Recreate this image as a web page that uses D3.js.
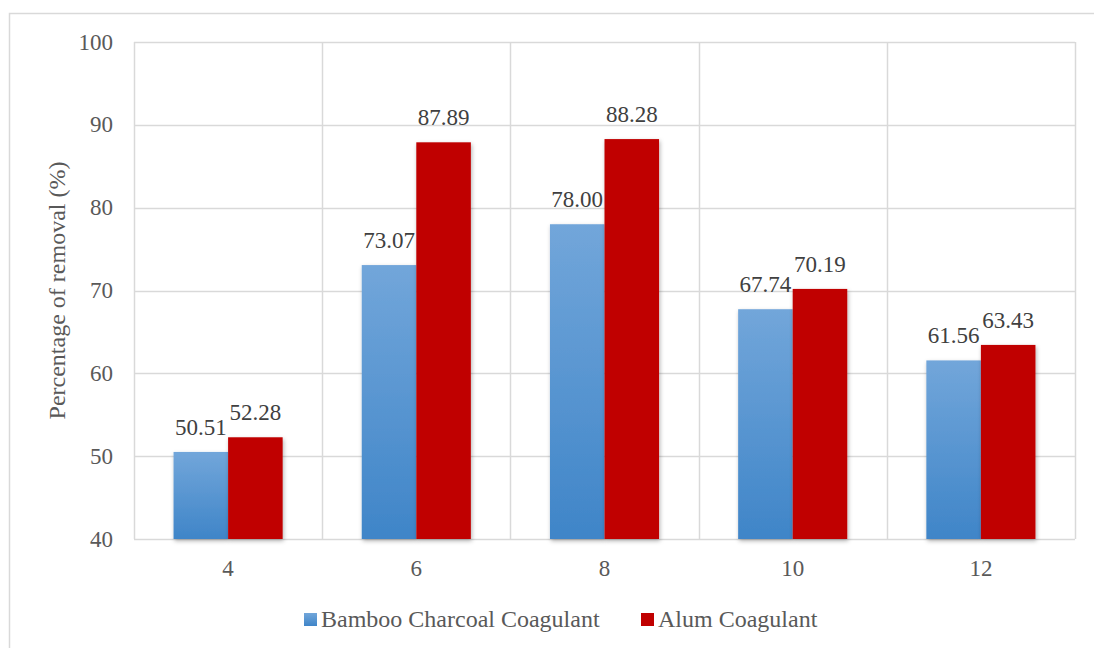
<!DOCTYPE html>
<html>
<head>
<meta charset="utf-8">
<script src="https://cdn.jsdelivr.net/npm/d3@7"></script>
<style>
  html, body { margin: 0; padding: 0; background: #fff; }
  svg text { font-family: 'Liberation Serif', Tinos, 'Times New Roman', 'DejaVu Serif', serif; }
</style>
</head>
<body>
<svg id="chart" width="1094" height="648"></svg>
<script>
// Coagulant dosage groups (x axis)
const categories = ["4", "6", "8", "10", "12"];
// Removal percentages per coagulant
const bambooValues = [50.51, 73.07, 78.00, 67.74, 61.56];
const alumValues = [52.28, 87.89, 88.28, 70.19, 63.43];
const seriesNames = ["Bamboo Charcoal Coagulant", "Alum Coagulant"];
const yTicks = [40, 50, 60, 70, 80, 90, 100];

const FONT = "'Liberation Serif', Tinos, 'Times New Roman', 'DejaVu Serif', serif";
const FS = 23;      // tick and value labels
const FS_BIG = 24;  // axis title and legend
const svg = d3.select("#chart");
const plot = { left: 134, right: 1075, top: 42, bottom: 539 };

// Outer chart frame
svg.append("path")
  .attr("d", "M9.5,660 V13.5 H1100")
  .attr("fill", "none").attr("stroke", "#d9d9d9").attr("stroke-width", 1.5);

const defs = svg.append("defs");
const grad = defs.append("linearGradient").attr("id", "blueGrad")
  .attr("x1", 0).attr("y1", 0).attr("x2", 0).attr("y2", 1);
grad.append("stop").attr("offset", "0%").attr("stop-color", "#72a6da");
grad.append("stop").attr("offset", "100%").attr("stop-color", "#3f85c8");

const shadow = defs.append("filter").attr("id", "barShadow")
  .attr("x", "-20%").attr("y", "-20%").attr("width", "140%").attr("height", "140%");
shadow.append("feDropShadow").attr("dx", 1).attr("dy", 2).attr("stdDeviation", 2)
  .attr("flood-color", "#000").attr("flood-opacity", 0.3);

const x = d3.scaleBand().domain(categories).range([plot.left, plot.right]).paddingInner(0).paddingOuter(0);
const y = d3.scaleLinear().domain([40, 100]).range([plot.bottom, plot.top]);

// Horizontal gridlines
svg.append("g").selectAll("line").data(yTicks).join("line")
  .attr("x1", plot.left).attr("x2", plot.right)
  .attr("y1", d => Math.round(y(d)) + 0.5).attr("y2", d => Math.round(y(d)) + 0.5)
  .attr("stroke", "#d9d9d9").attr("stroke-width", 1.5);

// Vertical category dividers
const dividers = categories.map(c => x(c)).concat([plot.right]);
svg.append("g").selectAll("line").data(dividers).join("line")
  .attr("x1", d => Math.round(d) + 0.5).attr("x2", d => Math.round(d) + 0.5)
  .attr("y1", plot.top).attr("y2", plot.bottom)
  .attr("stroke", "#d9d9d9").attr("stroke-width", 1.5);

// Y tick labels
svg.append("g").selectAll("text").data(yTicks).join("text")
  .attr("x", 113).attr("y", d => y(d)).attr("dy", "0.33em")
  .attr("text-anchor", "end").attr("font-size", FS).attr("font-family", FONT).attr("fill", "#595959")
  .text(d => d);

// X tick labels
svg.append("g").selectAll("text").data(categories).join("text")
  .attr("x", d => x(d) + x.bandwidth() / 2).attr("y", 576)
  .attr("text-anchor", "middle").attr("font-size", FS).attr("font-family", FONT).attr("fill", "#595959")
  .text(d => d);

// Y axis title
svg.append("text")
  .attr("transform", "translate(65," + ((plot.top + plot.bottom) / 2) + ") rotate(-90)")
  .attr("text-anchor", "middle").attr("font-size", FS_BIG).attr("font-family", FONT).attr("fill", "#595959")
  .text("Percentage of removal (%)");

// Bars within each category
const inner = d3.scaleBand().domain([0, 1]).range([0, x.bandwidth()]).paddingInner(0).paddingOuter(0.725);
const rows = categories.map((c, i) => ({ c, vals: [bambooValues[i], alumValues[i]] }));
const fills = ["url(#blueGrad)", "#c00000"];

const groups = svg.append("g").selectAll("g").data(rows).join("g")
  .attr("transform", d => "translate(" + x(d.c) + ",0)");

groups.selectAll("rect").data(d => d.vals.map((v, k) => ({ v, k }))).join("rect")
  .attr("x", d => inner(d.k)).attr("width", inner.bandwidth())
  .attr("y", d => y(d.v)).attr("height", d => y(40) - y(d.v))
  .attr("fill", d => fills[d.k]).attr("filter", "url(#barShadow)");

groups.selectAll("text").data(d => d.vals.map((v, k) => ({ v, k }))).join("text")
  .attr("x", d => inner(d.k) + inner.bandwidth() / 2).attr("y", d => y(d.v) - 17)
  .attr("text-anchor", "middle").attr("font-size", FS).attr("font-family", FONT).attr("fill", "#404040")
  .text(d => d.v.toFixed(2));

// Legend
const legendItems = [{ x: 304, name: seriesNames[0], fill: "url(#blueGrad)" },
                     { x: 641, name: seriesNames[1], fill: "#c00000" }];
const lg = svg.append("g").selectAll("g").data(legendItems).join("g")
  .attr("transform", d => "translate(" + d.x + ",613)");
lg.append("rect").attr("width", 13).attr("height", 13).attr("fill", d => d.fill);
lg.append("text").attr("x", 17).attr("y", 14).attr("font-size", FS_BIG).attr("font-family", FONT).attr("fill", "#595959")
  .text(d => d.name);
</script>
</body>
</html>
